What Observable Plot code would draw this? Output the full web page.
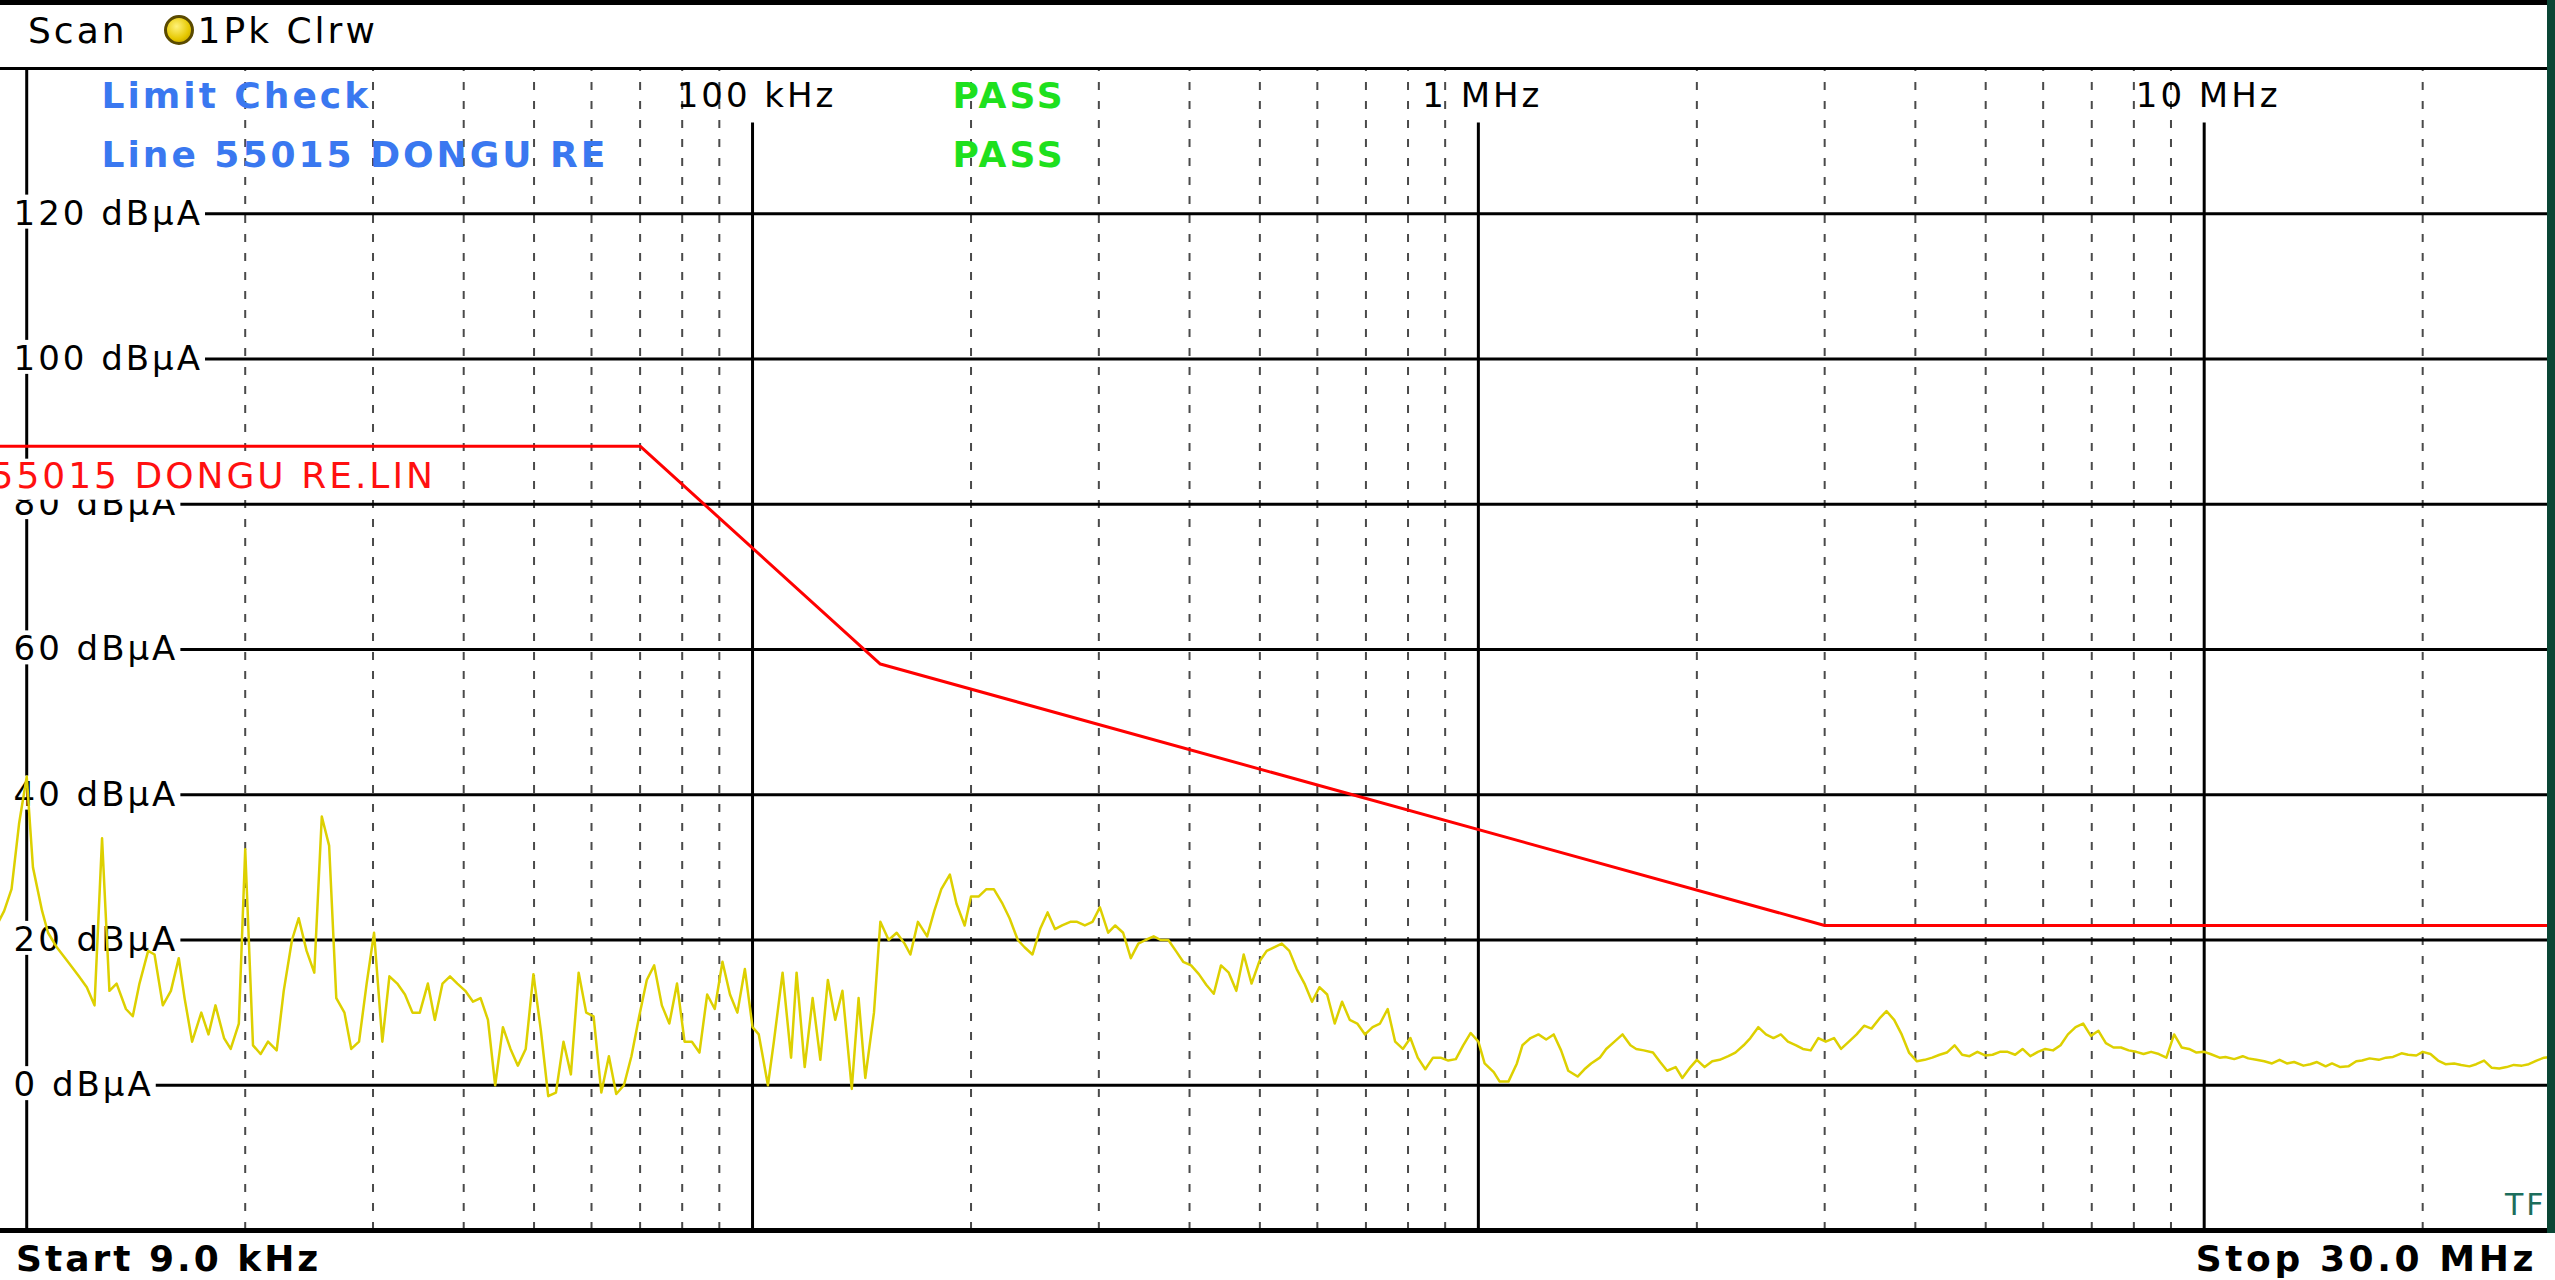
<!DOCTYPE html>
<html>
<head>
<meta charset="utf-8">
<script src="https://cdn.jsdelivr.net/npm/d3@7"></script>
<script src="https://cdn.jsdelivr.net/npm/@observablehq/plot@0.6"></script>
<style>
  html, body { margin: 0; padding: 0; background: #fff; }
  #wrap { position: relative; width: 2555px; height: 1280px; overflow: hidden; background: #fff; font-family: "DejaVu Sans", sans-serif; }
  #chart { position: absolute; left: 0; top: 0; }
  #chart svg text { letter-spacing: 3px; }
  .topbar { position: absolute; left: 0; top: 0; width: 2555px; height: 5px; background: #000; }
  .rightbar { position: absolute; left: 2547px; top: 0; width: 8px; height: 1233px; background: #0b4635; }
  .hdr { position: absolute; left: 28px; top: 31px; transform: translateY(-50%); font-size: 36px; letter-spacing: 3px; color: #000; white-space: nowrap; line-height: 1; }
  .dot { display: inline-block; width: 24px; height: 24px; border-radius: 50%; background: radial-gradient(circle at 40% 35%, #fff27a, #e6c800 60%, #b09000); border: 3px solid #5a4a00; vertical-align: -2px; margin: 0 4px 0 36px; }
  .foot { position: absolute; top: 1259px; transform: translateY(-50%); font-size: 36px; font-weight: bold; letter-spacing: 3px; color: #000; white-space: nowrap; line-height: 1.1; }
</style>
</head>
<body>
<div id="wrap">
  <div id="chart"></div>
  <div class="topbar"></div>
  <div class="rightbar"></div>
  <div class="hdr">Scan<span class="dot"></span>1Pk Clrw</div>
  <div class="foot" id="startLbl" style="left:16px"></div>
  <div class="foot" id="stopLbl" style="right:18px;letter-spacing:3.6px"></div>
</div>
<script>
// ---------------- data ----------------
const startLabel = "Start 9.0 kHz";
const stopLabel = "Stop 30.0 MHz";
const freqDomainKHz = [9.0, 30000];
const levelDomainDb = [-20, 140];

const yTicksDb = [0, 20, 40, 60, 80, 100, 120];
const yFrameTopDb = [140];
const yFrameBottomDb = [-20];

const majorFullKHz = [10];
const majorLabeledKHz = [100, 1000, 10000];
const majorLabels = ["100 kHz", "1 MHz", "10 MHz"];
const minorKHz = [20, 30, 40, 50, 60, 70, 80, 90,
  200, 300, 400, 500, 600, 700, 800, 900,
  2000, 3000, 4000, 5000, 6000, 7000, 8000, 9000,
  20000];

// EN 55015 limit line (dBµA)
const limitName = "55015 DONGU RE.LIN";
const limitKHz = [9, 70, 150, 3000, 30000];
const limitDb = [88, 88, 58, 22, 22];

const infoLeft = ["Limit Check", "Line 55015 DONGU RE"];
const infoRight = ["PASS", "PASS"];
const cornerMark = "TF";

// 1Pk Clrw trace, 9 kHz - 100 kHz
const traceKHzA = [9.0, 9.09, 9.31, 9.53, 9.76,
  10.0,10.2,10.5,10.7,11.0,11.3,11.5,11.8,12.1,12.4,12.7,13.0,13.3,13.7,14.0,14.3,14.7,15.0,15.4,15.8,
  16.2,16.5,16.9,17.4,17.8,18.2,18.7,19.1,19.6,20.0,20.5,21.0,21.5,22.1,22.6,23.2,23.7,24.3,24.9,25.5,
  26.1,26.7,27.4,28.0,28.7,29.4,30.1,30.9,31.6,32.4,33.2,34.0,34.8,35.7,36.5,37.4,38.3,39.2,40.2,41.2,
  42.2,43.2,44.2,45.3,46.4,47.5,48.7,49.9,51.1,52.3,53.6,54.9,56.2,57.6,59.0,60.4,61.9,63.4,64.9,66.5,
  68.1,69.8,71.5,73.2,75.0,76.8,78.7,80.6,82.5,84.5,86.6,88.7,90.9,93.1,95.3,97.6];
const traceDbA = [22, 22, 24, 27, 36,
  42.5,30,24,21,19,17.5,16.5,15,13.5,11,34,13,14,10.5,9.5,14,18.5,18,11,13,
  17.5,12,6,10,7,11,6.5,5,8.5,32.5,5.5,4.3,6,4.8,13,20,23,18.5,15.5,37,
  33,12,10,5,6,14,21,6,15,14,12.5,10,10,14,9,14,15,14,13,11.5,
  12,9,0,8,5,2.7,5,15.3,7.5,-1.5,-1,6,1.5,15.5,10,9.5,-1,4,-1.2,0,
  4,9.5,14.5,16.5,11,8.5,14,6,6,4.5,12.5,10.5,17,12.5,10,16];

// 100 kHz - 1 MHz
const traceKHzB = [100,102,105,107,110,113,115,118,121,124,127,130,133,137,140,143,147,150,154,158,
  162,165,169,174,178,182,187,191,196,200,205,210,215,221,226,232,237,243,249,255,
  261,267,274,280,287,294,301,309,316,324,332,340,348,357,365,374,383,392,402,412,
  422,432,442,453,464,475,487,499,511,523,536,549,562,576,590,604,619,634,649,665,
  681,698,715,732,750,768,787,806,825,845,866,887,909,931,953,976];
const traceDbB = [8,7,0,6,15.5,3.8,15.5,2.5,12,3.5,14.5,9,13,-0.5,12,1,10,22.5,20,21,
  19.5,18,22.5,20.5,24,27,29,25,22,26,26,27,27,25,23,20,19,18,21.5,23.8,
  21.5,22,22.5,22.5,22,22.5,24.5,21,22,21,17.5,19.5,20,20.5,20,20,18.5,17,16.5,15.3,
  13.8,12.6,16.5,15.5,13,18,14,17,18.5,19,19.5,18.5,16,14,11.5,13.5,12.5,8.5,11.5,9,
  8.5,7,8,8.5,10.5,6,5,6.5,3.8,2.2,3.8,3.8,3.4,3.6,5.5,7.2];

// 1 MHz - 10 MHz
const traceKHzC = [1000,1020,1050,1070,1100,1130,1150,1180,1210,1240,1270,1300,1330,1370,1400,1430,1470,1500,1540,1580,
  1620,1650,1690,1740,1780,1820,1870,1910,1960,2000,2050,2100,2150,2210,2260,2320,2370,2430,2490,2550,
  2610,2670,2740,2800,2870,2940,3010,3090,3160,3240,3320,3400,3480,3570,3650,3740,3830,3920,4020,4120,
  4220,4320,4420,4530,4640,4750,4870,4990,5110,5230,5360,5490,5620,5760,5900,6040,6190,6340,6490,6650,
  6810,6980,7150,7320,7500,7680,7870,8060,8250,8450,8660,8870,9090,9310,9530,9760];
const traceDbC = [6,3,1.8,0.5,0.5,3,5.5,6.5,7,6.3,7,4.8,2,1.2,2.2,3,3.8,5,6,7,
  5.5,5,4.8,4.5,3.2,2,2.5,1,2.5,3.5,2.5,3.3,3.5,4,4.5,5.5,6.5,8,7,6.5,
  7,6,5.5,5,4.8,6.5,6,6.5,5,6,7,8.2,7.8,9.2,10.2,9,7,4.5,3.3,3.5,
  3.8,4.2,4.5,5.5,4.2,4,4.6,4.1,4.2,4.6,4.6,4.2,5,4,4.6,5,4.8,5.5,7,8,
  8.5,6.8,7.5,5.8,5.2,5.2,4.8,4.6,4.3,4.6,4.3,3.8,7,5.2,5,4.5];

// 10 MHz - 30 MHz
const traceKHzD = [10000,10200,10500,10700,11000,11300,11500,11800,12100,12400,12700,13000,13300,13700,14000,14300,14700,15000,15400,15800,
  16200,16500,16900,17400,17800,18200,18700,19100,19600,20000,20500,21000,21500,22100,22600,23200,23700,24300,24900,25500,
  26100,26700,27400,28000,28700,29400,30000];
const traceDbD = [4.6,4.3,3.8,3.9,3.6,4,3.7,3.5,3.3,3.0,3.5,3.0,3.2,2.7,2.9,3.2,2.6,3.0,2.5,2.6,
  3.3,3.4,3.7,3.5,3.8,3.9,4.4,4.2,4.1,4.6,4.3,3.4,2.9,3.0,2.8,2.6,2.9,3.4,2.4,2.3,
  2.5,2.8,2.7,2.9,3.4,3.8,3.9];

// ---------------- build ----------------
const hz = k => k * 1e3;
const trace = [[traceKHzA, traceDbA], [traceKHzB, traceDbB], [traceKHzC, traceDbC], [traceKHzD, traceDbD]]
  .flatMap(([ks, ds]) => ks.map((k, i) => ({hz: hz(k), db: ds[i]})));
const limit = limitKHz.map((k, i) => ({hz: hz(k), db: limitDb[i]}));
const labeled = majorLabeledKHz.map((k, i) => ({hz: hz(k), label: majorLabels[i]}));

const FONT = "DejaVu Sans";
const topLabelDy = 28;    // label row 1 below frame top
const secondRowDy = 87;   // label row 2
const majorLineTopDb = 132.5;

const chart = Plot.plot({
  width: 2555,
  height: 1280,
  marginTop: 68,
  marginBottom: 50,
  marginLeft: 0,
  marginRight: 5,
  style: {fontFamily: FONT, background: "#fff"},
  x: {type: "log", domain: freqDomainKHz.map(hz), range: [-7, 2550], axis: null},
  y: {domain: levelDomainDb, range: [1230, 68], axis: null},
  marks: [
    // minor dashed verticals
    Plot.ruleX(minorKHz.map(hz), {y1: levelDomainDb[0], y2: levelDomainDb[1], stroke: "#4a4a4a", strokeWidth: 2, strokeDasharray: "8,11"}),
    // major verticals
    Plot.ruleX(majorFullKHz.map(hz), {y1: levelDomainDb[0], y2: levelDomainDb[1], stroke: "#000", strokeWidth: 3}),
    Plot.ruleX(majorLabeledKHz.map(hz), {y1: levelDomainDb[0], y2: majorLineTopDb, stroke: "#000", strokeWidth: 3}),
    // horizontals
    Plot.ruleY(yTicksDb, {stroke: "#000", strokeWidth: 3}),
    Plot.ruleY(yFrameTopDb, {stroke: "#000", strokeWidth: 3}),
    Plot.ruleY(yFrameBottomDb, {stroke: "#000", strokeWidth: 5}),
    // y labels (white box added behind after render)
    Plot.text(yTicksDb, {frameAnchor: "left", y: d => d, text: d => `${d} dBµA`, dx: 13, textAnchor: "start",
      fontSize: 34, fill: "#000", fontFamily: FONT, ariaDescription: "ylabels"}),
    // x labels
    Plot.text(labeled, {x: "hz", frameAnchor: "top", lineAnchor: "middle", dy: topLabelDy, text: "label", textAnchor: "middle", dx: 4,
      fontSize: 34, fill: "#000", fontFamily: FONT}),
    // limit-check info
    Plot.text([infoLeft[0]], {frameAnchor: "top-left", lineAnchor: "middle", dx: 101, dy: topLabelDy, textAnchor: "start", fontSize: 36, fontWeight: "bold", fill: "#3a78f0", fontFamily: FONT}),
    Plot.text([infoLeft[1]], {frameAnchor: "top-left", lineAnchor: "middle", dx: 101, dy: secondRowDy, textAnchor: "start", fontSize: 36, fontWeight: "bold", fill: "#3a78f0", fontFamily: FONT}),
    Plot.text([infoRight[0]], {frameAnchor: "top-left", lineAnchor: "middle", dx: 952, dy: topLabelDy, textAnchor: "start", fontSize: 36, fontWeight: "bold", fill: "#1ee01e", fontFamily: FONT}),
    Plot.text([infoRight[1]], {frameAnchor: "top-left", lineAnchor: "middle", dx: 952, dy: secondRowDy, textAnchor: "start", fontSize: 36, fontWeight: "bold", fill: "#1ee01e", fontFamily: FONT}),
    // limit line name (white box added behind after render)
    Plot.text([limit[0]], {x: "hz", y: "db", dy: 30, dx: -3, text: () => limitName, textAnchor: "start",
      fontSize: 36, fill: "#ff1010", fontFamily: FONT, ariaDescription: "limitname"}),
    // limit line
    Plot.line(limit, {x: "hz", y: "db", stroke: "#ff0000", strokeWidth: 3}),
    // trace
    Plot.line(trace, {x: "hz", y: "db", stroke: "#ddd000", strokeWidth: 2.5}),
    // TF marker
    Plot.text([cornerMark], {frameAnchor: "bottom-right", lineAnchor: "middle", dx: -4, dy: -25, textAnchor: "end", fontSize: 30, fill: "#1c6e5c", fontFamily: FONT})
  ]
});
document.getElementById("chart").appendChild(chart);
document.getElementById("startLbl").textContent = startLabel;
document.getElementById("stopLbl").textContent = stopLabel;

// white label boxes, as on the instrument screen
function boxBehind(desc, padL, padR, padT, padB) {
  chart.querySelectorAll(`g[aria-description="${desc}"] text`).forEach(t => {
    const b = t.getBBox();
    const r = document.createElementNS("http://www.w3.org/2000/svg", "rect");
    r.setAttribute("x", b.x - padL);
    r.setAttribute("y", b.y - padT);
    r.setAttribute("width", b.width + padL + padR);
    r.setAttribute("height", b.height + padT + padB);
    r.setAttribute("fill", "#fff");
    r.setAttribute("stroke", "none");
    if (t.getAttribute("transform")) r.setAttribute("transform", t.getAttribute("transform"));
    t.parentNode.insertBefore(r, t);
  });
}
boxBehind("ylabels", 14, 2, -2, -4);
boxBehind("limitname", 4, 4, -4, 4);
</script>
</body>
</html>
